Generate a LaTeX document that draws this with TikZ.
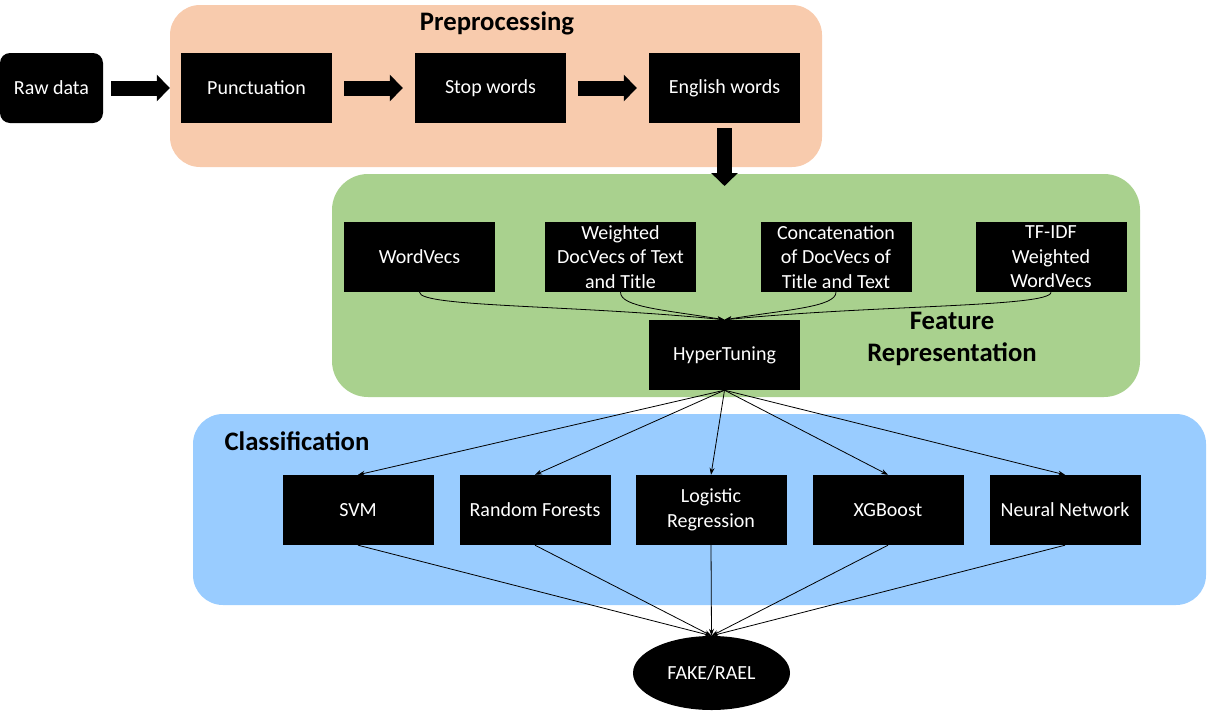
\documentclass[tikz,border=0pt]{standalone}
\usepackage{fontspec}
\setmainfont{Carlito}
\usetikzlibrary{arrows.meta,shapes.geometric}

\definecolor{peach}{RGB}{248,203,173}
\definecolor{leaf}{RGB}{169,209,142}
\definecolor{sky}{RGB}{153,204,255}

\begin{document}
\begin{tikzpicture}[x=1pt,y=1pt,
        blk/.style={rectangle, fill=black, text=white, inner sep=0pt,
                        minimum width=151pt, minimum height=70pt, align=center,
                        font=\fontsize{20}{24.5}\selectfont},
        panel/.style={rectangle, rounded corners=30pt, inner sep=0pt},
        ttl/.style={align=center, font=\fontsize{26.7}{32}\selectfont\bfseries},
        fat/.style={line width=15pt, -{Triangle[length=13pt,width=26pt]}},
        link/.style={draw, line width=0.8pt, -{Stealth[length=7pt,width=5pt]}}]
            \useasboundingbox (0,0) rectangle (1209,-715);

            % panels
            \node[panel, fill=peach, minimum width=652pt, minimum height=162pt] (pre) at (496,-86) {};
            \node[panel, fill=leaf, rounded corners=36pt,
                        minimum width=808pt, minimum height=223pt] (feat) at (736,-285.5) {};
            \node[panel, fill=sky, minimum width=1013pt, minimum height=191pt] (cls) at (699.5,-509.5) {};

            \node[ttl] (pretitle) at (497,-23) {Preprocessing};
            \node[ttl] (feattitle) at (952,-339) {Feature\\Representation};
            \node[ttl] (clstitle) at (297,-441) {Classification};

            % preprocessing
            \node[blk, minimum width=103pt, rounded corners=10pt] (raw) at (51.5,-88) {Raw data};
            \node[blk] (punct) at (256.5,-88) {Punctuation};
            \node[blk] (stop) at (490.5,-88) {Stop words};
            \node[blk] (eng) at (724.5,-88) {English words};
            \coordinate (down) at (724.5,-186);

            \draw[fat, shorten <=8pt, shorten >=11pt] (raw.east) -- (punct.west);
            \draw[fat, shorten <=12pt, shorten >=12pt] (punct.east) -- (stop.west);
            \draw[fat, shorten <=12pt, shorten >=12pt] (stop.east) -- (eng.west);
            \draw[fat, shorten <=5pt] (eng.south) -- (down);

            % feature representation
            \node[blk] (wv) at (419.5,-257) {WordVecs};
            \node[blk] (wdv) at (620.5,-257) {Weighted\\DocVecs of Text\\and Title};
            \node[blk] (cdv) at (836,-257) {Concatenation\\of DocVecs of\\Title and Text};
            \node[blk] (tfidf) at (1051,-257) {TF-IDF\\Weighted\\WordVecs};
            \node[blk] (ht) at (724.5,-355) {HyperTuning};

            \draw[link] (wv.south) .. controls +(0,-15) and +(-150,15) .. (ht.north);
            \draw[link] (wdv.south) .. controls +(0,-15) and +(-60,10) .. (ht.north);
            \draw[link] (cdv.south) .. controls +(0,-15) and +(60,10) .. (ht.north);
            \draw[link] (tfidf.south) .. controls +(0,-15) and +(150,15) .. (ht.north);

            % classification
            \node[blk] (svm) at (358,-510) {SVM};
            \node[blk] (rf) at (535,-510) {Random Forests};
            \node[blk] (lr) at (711,-510) {Logistic\\Regression};
            \node[blk] (xgb) at (888,-510) {XGBoost};
            \node[blk] (nn) at (1065,-510) {Neural Network};
            \node[ellipse, fill=black, text=white, inner sep=0pt,
                        minimum width=157pt, minimum height=74pt,
                        font=\fontsize{20}{24}\selectfont] (res) at (711.5,-673) {FAKE/RAEL};

            \path (ht.south) edge[link] (svm.north) edge[link] (rf.north) edge[link] (lr.north)
                                edge[link] (xgb.north) edge[link] (nn.north);
            \path (svm.south) edge[link] (res.north) (rf.south) edge[link] (res.north)
                        (lr.south) edge[link] (res.north) (xgb.south) edge[link] (res.north)
                        (nn.south) edge[link] (res.north);
\end{tikzpicture}
\end{document}
